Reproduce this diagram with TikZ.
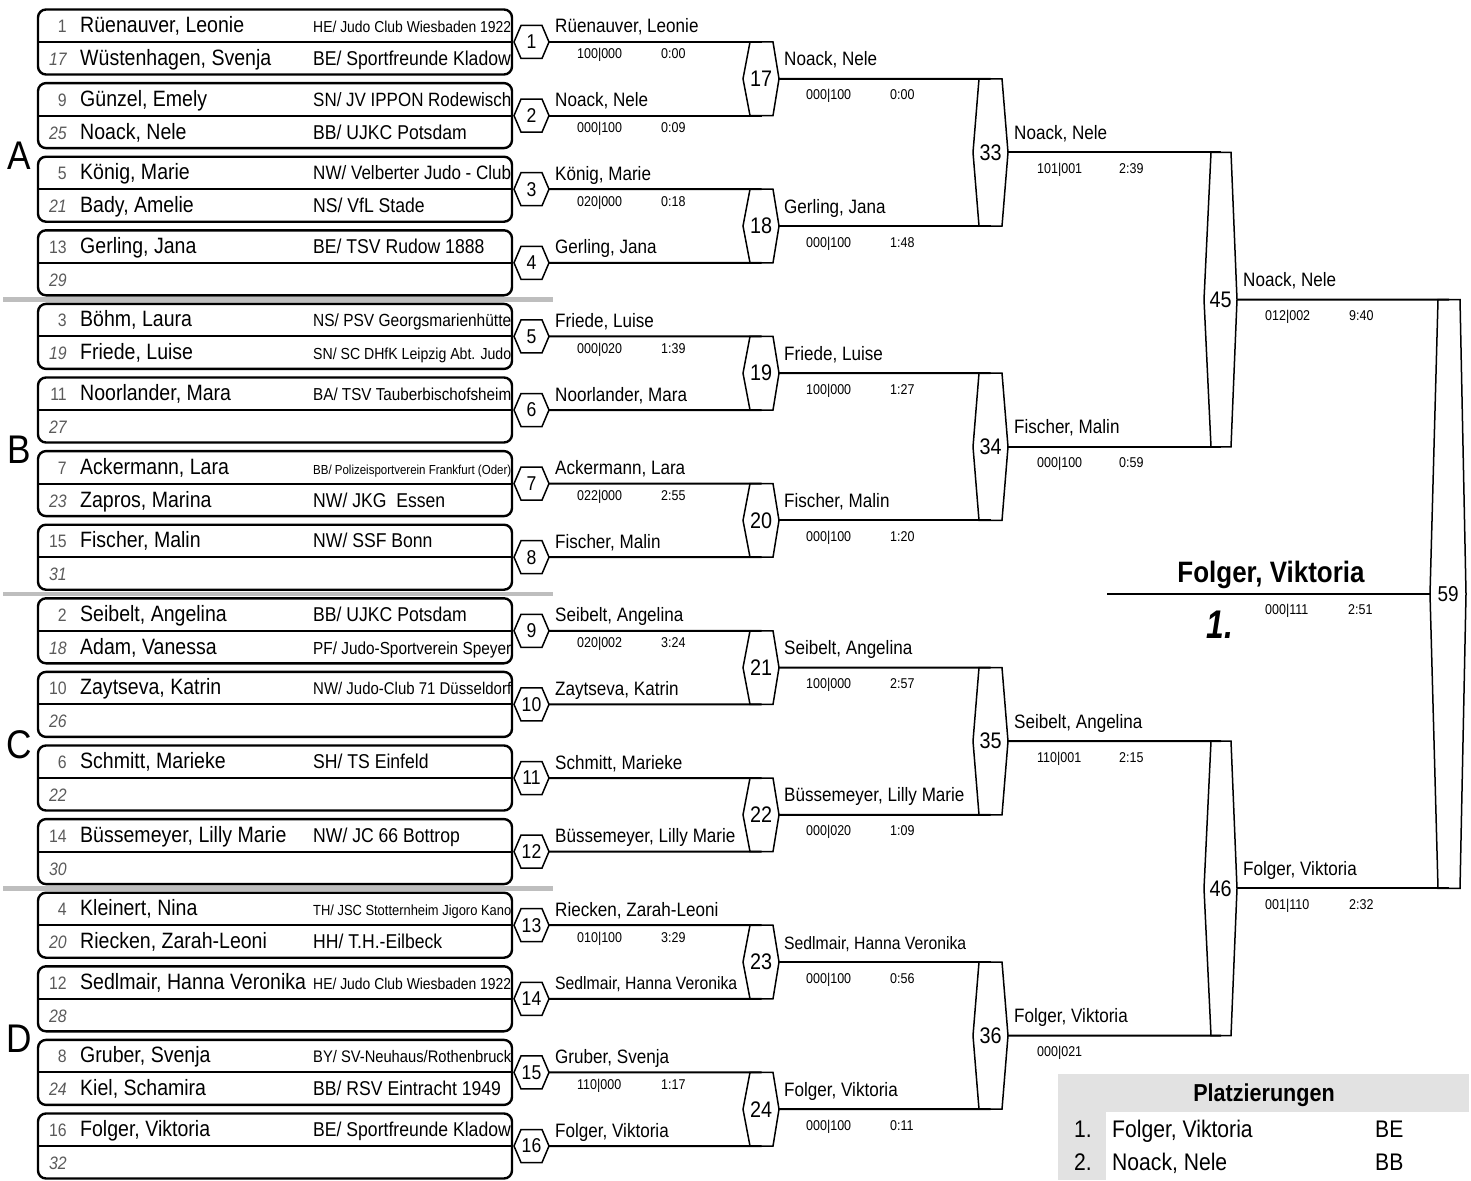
\documentclass[tikz,border=0pt]{standalone}
\usepackage{fontspec}
\setmainfont{Liberation Sans}[FakeStretch=0.88]
\usepackage{graphicx}
\usetikzlibrary{calc}
\definecolor{sepgray}{HTML}{BEBEBE}
\definecolor{seedgray}{HTML}{5A5A5A}
\definecolor{tabgray}{HTML}{E2E2E2}
\newsavebox\fitbox
\newcommand\fitw[3]{\sbox\fitbox{\fontsize{#2}{#2}\selectfont #3}\ifdim\wd\fitbox>#1pt\relax\resizebox{#1pt}{!}{\usebox\fitbox}\else\usebox\fitbox\fi}
\tikzset{
  boxline/.style={line width=2.4pt, rounded corners=8pt},
  midline/.style={line width=2pt},
  hexline/.style={line width=1.5pt, line join=miter},
  wire/.style={line width=2pt},
  hexnum/.style={inner sep=0pt},
  seedA/.style={anchor=base east, inner sep=0pt, text=seedgray, font=\fontsize{18}{18}\selectfont},
  seedB/.style={anchor=base east, inner sep=0pt, text=seedgray, font=\fontsize{18}{18}\selectfont\itshape},
  pname/.style={anchor=base west, inner sep=0pt, font=\fontsize{22.2}{22.2}\selectfont},
  pclub/.style={anchor=base west, inner sep=0pt},
  wname/.style={anchor=base west, inner sep=0pt},
  score/.style={anchor=base west, inner sep=0pt, font=\fontsize{14.2}{14.2}\selectfont},
  grp/.style={anchor=base, inner sep=0pt, font=\fontsize{40}{40}\selectfont},
  tab/.style={anchor=base west, inner sep=0pt, font=\fontsize{24}{24}\selectfont},
}
\newcommand\hexm[9]{%
  \path ({#2},{(#6+#7)/2}) coordinate (#1-l) ({#5},{(#6+#7)/2}) coordinate (#1-r)
    ({#3},{#6}) coordinate (#1-t1) ({#4},{#6}) coordinate (#1-t2)
    ({#3},{#7}) coordinate (#1-b1) ({#4},{#7}) coordinate (#1-b2);
  \draw[hexline] (#1-l) -- (#1-t1) -- (#1-t2) -- (#1-r) -- (#1-b2) -- (#1-b1) -- cycle;
  \node[hexnum, font=\fontsize{#9}{#9}\selectfont] (#1) at ({(#2+#5)/2},{(#6+#7)/2}) {#8};}
\newcommand\pbox[7]{%
  \pgfmathsetmacro\tY{9.5+73.6*#1}%
  \draw[boxline] (38,\tY) rectangle (512,{\tY+65});
  \draw[midline] (38,{\tY+32.5}) -- (512,{\tY+32.5});
  \node[seedA] (sa#1) at (67,{\tY+23}) {#2};
  \node[pname] (na#1) at (80,{\tY+23}) {#3};
  \node[pclub] (ca#1) at (313,{\tY+23}) {\fitw{198}{20}{#4}};
  \node[seedB] (sb#1) at (67,{\tY+56}) {#5};
  \node[pname] (nb#1) at (80,{\tY+56}) {#6};
  \node[pclub] (cb#1) at (313,{\tY+56}) {\fitw{198}{20}{#7}};}
\newcommand\rone[4]{%
  \pgfmathsetmacro\mY{42+73.6*(#1-1)}%
  \hexm{h#1}{514}{521}{542}{549}{\mY-16.5}{\mY+16.5}{#1}{20}%
  \node[wname] (w#1) at (555,{\mY-9}) {\fitw{182}{19.4}{#2}};
  \node[score] (s#1) at (577,{\mY+17}) {#3};
  \node[score] (t#1) at (661,{\mY+17}) {#4};}
\newcommand\wtx[8]{%
  \node[wname] (w#1) at (#2,{#5-13}) {\fitw{182}{19.4}{#6}};
  \node[score] (s#1) at (#3,{#5+21}) {#7};
  \node[score] (t#1) at (#4,{#5+21}) {#8};}
\begin{document}
\begin{tikzpicture}[x=1pt,y=-1pt]
\useasboundingbox (0,0) rectangle (1471,1180);
% separators
\fill[sepgray] (3,297.2) rectangle (553,302);
\fill[sepgray] (3,591.6) rectangle (553,596.4);
\fill[sepgray] (3,886) rectangle (553,890.8);
% group letters
\node[grp] (gA) at (19,169.4) {A};
\node[grp] (gB) at (19,463.8) {B};
\node[grp] (gC) at (19,758.2) {C};
\node[grp] (gD) at (19,1052.6) {D};
% player boxes
\pbox{0}{1}{Rüenauver, Leonie}{HE/ Judo Club Wiesbaden 1922}{17}{Wüstenhagen, Svenja}{BE/ Sportfreunde Kladow}
\pbox{1}{9}{Günzel, Emely}{SN/ JV IPPON Rodewisch}{25}{Noack, Nele}{BB/ UJKC Potsdam}
\pbox{2}{5}{König, Marie}{NW/ Velberter Judo - Club}{21}{Bady, Amelie}{NS/ VfL Stade}
\pbox{3}{13}{Gerling, Jana}{BE/ TSV Rudow 1888}{29}{}{}
\pbox{4}{3}{Böhm, Laura}{NS/ PSV Georgsmarienhütte}{19}{Friede, Luise}{SN/ SC DHfK Leipzig Abt. Judo}
\pbox{5}{11}{Noorlander, Mara}{BA/ TSV Tauberbischofsheim}{27}{}{}
\pbox{6}{7}{Ackermann, Lara}{BB/ Polizeisportverein Frankfurt (Oder)}{23}{Zapros, Marina}{NW/ JKG\ \ Essen}
\pbox{7}{15}{Fischer, Malin}{NW/ SSF Bonn}{31}{}{}
\pbox{8}{2}{Seibelt, Angelina}{BB/ UJKC Potsdam}{18}{Adam, Vanessa}{PF/ Judo-Sportverein Speyer}
\pbox{9}{10}{Zaytseva, Katrin}{NW/ Judo-Club 71 Düsseldorf}{26}{}{}
\pbox{10}{6}{Schmitt, Marieke}{SH/ TS Einfeld}{22}{}{}
\pbox{11}{14}{Büssemeyer, Lilly Marie}{NW/ JC 66 Bottrop}{30}{}{}
\pbox{12}{4}{Kleinert, Nina}{TH/ JSC Stotternheim Jigoro Kano}{20}{Riecken, Zarah-Leoni}{HH/ T.H.-Eilbeck}
\pbox{13}{12}{Sedlmair, Hanna Veronika}{HE/ Judo Club Wiesbaden 1922}{28}{}{}
\pbox{14}{8}{Gruber, Svenja}{BY/ SV-Neuhaus/Rothenbruck}{24}{Kiel, Schamira}{BB/ RSV Eintracht 1949}
\pbox{15}{16}{Folger, Viktoria}{BE/ Sportfreunde Kladow}{32}{}{}
% round 1
\rone{1}{Rüenauver, Leonie}{100|000}{0:00}
\rone{2}{Noack, Nele}{000|100}{0:09}
\rone{3}{König, Marie}{020|000}{0:18}
\rone{4}{Gerling, Jana}{}{}
\rone{5}{Friede, Luise}{000|020}{1:39}
\rone{6}{Noorlander, Mara}{}{}
\rone{7}{Ackermann, Lara}{022|000}{2:55}
\rone{8}{Fischer, Malin}{}{}
\rone{9}{Seibelt, Angelina}{020|002}{3:24}
\rone{10}{Zaytseva, Katrin}{}{}
\rone{11}{Schmitt, Marieke}{}{}
\rone{12}{Büssemeyer, Lilly Marie}{}{}
\rone{13}{Riecken, Zarah-Leoni}{010|100}{3:29}
\rone{14}{Sedlmair, Hanna Veronika}{}{}
\rone{15}{Gruber, Svenja}{110|000}{1:17}
\rone{16}{Folger, Viktoria}{}{}
% round 2
\hexm{h17}{743}{750}{773}{779}{42}{115.6}{17}{22.5}
\hexm{h18}{743}{750}{773}{779}{189.2}{262.8}{18}{22.5}
\hexm{h19}{743}{750}{773}{779}{336.4}{410}{19}{22.5}
\hexm{h20}{743}{750}{773}{779}{483.6}{557.2}{20}{22.5}
\hexm{h21}{743}{750}{773}{779}{630.8}{704.4}{21}{22.5}
\hexm{h22}{743}{750}{773}{779}{778}{851.6}{22}{22.5}
\hexm{h23}{743}{750}{773}{779}{925.2}{998.8}{23}{22.5}
\hexm{h24}{743}{750}{773}{779}{1072.4}{1146}{24}{22.5}
\wtx{17}{784}{806}{890}{78.8}{Noack, Nele}{000|100}{0:00}
\wtx{18}{784}{806}{890}{226}{Gerling, Jana}{000|100}{1:48}
\wtx{19}{784}{806}{890}{373.2}{Friede, Luise}{100|000}{1:27}
\wtx{20}{784}{806}{890}{520.4}{Fischer, Malin}{000|100}{1:20}
\wtx{21}{784}{806}{890}{667.6}{Seibelt, Angelina}{100|000}{2:57}
\wtx{22}{784}{806}{890}{814.8}{Büssemeyer, Lilly Marie}{000|020}{1:09}
\wtx{23}{784}{806}{890}{962}{Sedlmair, Hanna Veronika}{000|100}{0:56}
\wtx{24}{784}{806}{890}{1109.2}{Folger, Viktoria}{000|100}{0:11}
% round 3
\hexm{h33}{973}{979}{1002}{1008}{78.8}{226}{33}{22.5}
\hexm{h34}{973}{979}{1002}{1008}{373.2}{520.4}{34}{22.5}
\hexm{h35}{973}{979}{1002}{1008}{667.6}{814.8}{35}{22.5}
\hexm{h36}{973}{979}{1002}{1008}{962}{1109.2}{36}{22.5}
\wtx{33}{1014}{1037}{1119}{152.4}{Noack, Nele}{101|001}{2:39}
\wtx{34}{1014}{1037}{1119}{446.8}{Fischer, Malin}{000|100}{0:59}
\wtx{35}{1014}{1037}{1119}{741.2}{Seibelt, Angelina}{110|001}{2:15}
\wtx{36}{1014}{1037}{1119}{1035.6}{Folger, Viktoria}{000|021}{}
% round 4
\hexm{h45}{1204}{1211}{1231}{1237}{152.4}{446.8}{45}{22.5}
\hexm{h46}{1204}{1211}{1231}{1237}{741.2}{1035.6}{46}{22.5}
\wtx{45}{1243}{1265}{1349}{299.6}{Noack, Nele}{012|002}{9:40}
\wtx{46}{1243}{1265}{1349}{888.4}{Folger, Viktoria}{001|110}{2:32}
% final
\hexm{h59}{1430}{1438}{1460}{1466}{299.6}{888.4}{59}{21.5}
% connectors
\foreach \a/\b/\s in {1/17/t,2/17/b,3/18/t,4/18/b,5/19/t,6/19/b,7/20/t,8/20/b,
  9/21/t,10/21/b,11/22/t,12/22/b,13/23/t,14/23/b,15/24/t,16/24/b,
  17/33/t,18/33/b,19/34/t,20/34/b,21/35/t,22/35/b,23/36/t,24/36/b,
  33/45/t,34/45/b,35/46/t,36/46/b,45/59/t,46/59/b}
  \draw[wire] (h\a-r) -- ($(h\b-\s1)!0.5!(h\b-\s2)$);
% champion
\coordinate (wend) at (1107,594);
\draw[wire] (h59-l) -- (wend);
\node[anchor=base, inner sep=0pt, font=\bfseries\fontsize{29.5}{29.5}\selectfont] (champ) at (1271,582) {Folger, Viktoria};
\node[anchor=base, inner sep=0pt] (first) at (1220,638) {\scalebox{0.9}[1]{\fontsize{40}{40}\selectfont\bfseries\itshape 1.}};
\node[score] (s59) at (1265,614) {000|111};
\node[score] (t59) at (1348,614) {2:51};
% placements
\fill[tabgray] (1058,1074) rectangle (1469,1112);
\fill[tabgray] (1058,1112) rectangle (1106,1180);
\node[anchor=base, inner sep=0pt, font=\bfseries\fontsize{24.5}{24.5}\selectfont] (ptitle) at (1264,1101) {Platzierungen};
\node[tab, anchor=base east] (p1) at (1092,1137) {1.};
\node[tab] (p1n) at (1112,1137) {Folger, Viktoria};
\node[tab] (p1c) at (1375,1137) {BE};
\node[tab, anchor=base east] (p2) at (1092,1170) {2.};
\node[tab] (p2n) at (1112,1170) {Noack, Nele};
\node[tab] (p2c) at (1375,1170) {BB};
\end{tikzpicture}
\end{document}
